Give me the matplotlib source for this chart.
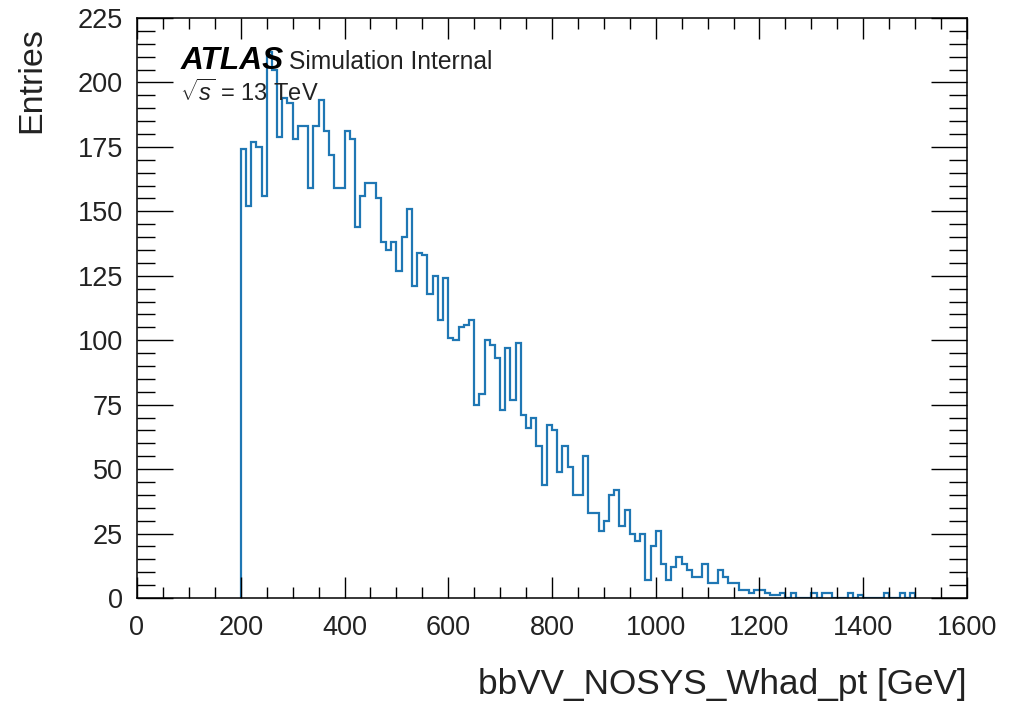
import numpy as np
import matplotlib
matplotlib.use("Agg")
import matplotlib.pyplot as plt
from matplotlib.ticker import MultipleLocator

# ---- data ----
x_low = 200
x_high = 1500
bin_width = 10
counts = [
    174, 152, 177, 175, 156, 212, 205, 179, 194, 192,   # 200-300
    178, 183, 183, 159, 183, 193, 181, 172, 159, 159,   # 300-400
    181, 178, 144, 156, 161, 161, 155, 138, 135, 138,   # 400-500
    127, 140, 151, 121, 134, 133, 118, 125, 108, 124,   # 500-600
    101, 100, 105, 106, 108, 75, 79, 100, 98, 93,       # 600-700
    73, 97, 77, 99, 71, 66, 70, 59, 44, 67,             # 700-800
    65, 49, 59, 51, 40, 40, 55, 33, 33, 26,             # 800-900
    30, 40, 42, 28, 34, 25, 22, 25, 7, 20,              # 900-1000
    26, 13, 7, 12, 16, 13, 11, 8, 8, 13,                # 1000-1100
    6, 6, 11, 8, 6, 6, 3, 3, 2, 3,                      # 1100-1200
    3, 2, 1, 1, 2, 0, 2, 0, 0, 0,                       # 1200-1300
    2, 0, 2, 2, 0, 0, 0, 2, 0, 1,                       # 1300-1400
    0, 0, 0, 0, 2, 0, 0, 2, 0, 2,                       # 1400-1500
]
x_label = "bbVV_NOSYS_Whad_pt [GeV]"
y_label = "Entries"

edges = np.arange(x_low, x_high + bin_width, bin_width)

plt.rcParams.update({
    "font.family": ["Liberation Sans", "DejaVu Sans"],
    "mathtext.fontset": "custom",
    "mathtext.rm": "Liberation Sans",
    "mathtext.it": "Liberation Sans:italic",
    "mathtext.bf": "Liberation Sans:bold",
})

W, H = 1011, 705
fig = plt.figure(figsize=(W / 100, H / 100), dpi=100)
ax = fig.add_axes([137 / W, 1 - 598 / H, 830 / W, 580 / H])

ax.stairs(counts, edges, color="#1f77b4", lw=1.6)

ax.set_xlim(0, 1600)
ax.set_ylim(0, 225)
ax.xaxis.set_major_locator(MultipleLocator(200))
ax.xaxis.set_minor_locator(MultipleLocator(50))
ax.yaxis.set_major_locator(MultipleLocator(25))
ax.yaxis.set_minor_locator(MultipleLocator(5))

ax.tick_params(which="both", direction="in", top=True, right=True,
               width=1.0, colors="black", labelcolor="#222222")
ax.tick_params(axis="x", which="major", length=15, labelsize=19.5, pad=12)
ax.tick_params(axis="x", which="minor", length=8)
ax.tick_params(axis="y", which="major", length=26, labelsize=19.5, pad=10)
ax.tick_params(axis="y", which="minor", length=13)
for s in ax.spines.values():
    s.set_linewidth(1.1)

ax.set_xlabel(x_label, fontsize=25.3, loc="right", labelpad=20, color="#222222")
ax.set_ylabel(y_label, fontsize=24.5, loc="top", labelpad=22, color="#222222")
ax.yaxis.label.set_y(0.985)

ax.text(0.052, 0.912, "ATLAS", fontsize=22.8, fontweight="bold", fontstyle="italic",
        transform=ax.transAxes, zorder=1)
ax.text(0.183, 0.912, "Simulation Internal", fontsize=17.7, color="#222222",
        transform=ax.transAxes, zorder=1)
ax.text(0.052, 0.857, r"$\sqrt{s}$ = 13 TeV", fontsize=17, color="#222222",
        transform=ax.transAxes, zorder=1)

fig.savefig("out.png", dpi=100)
